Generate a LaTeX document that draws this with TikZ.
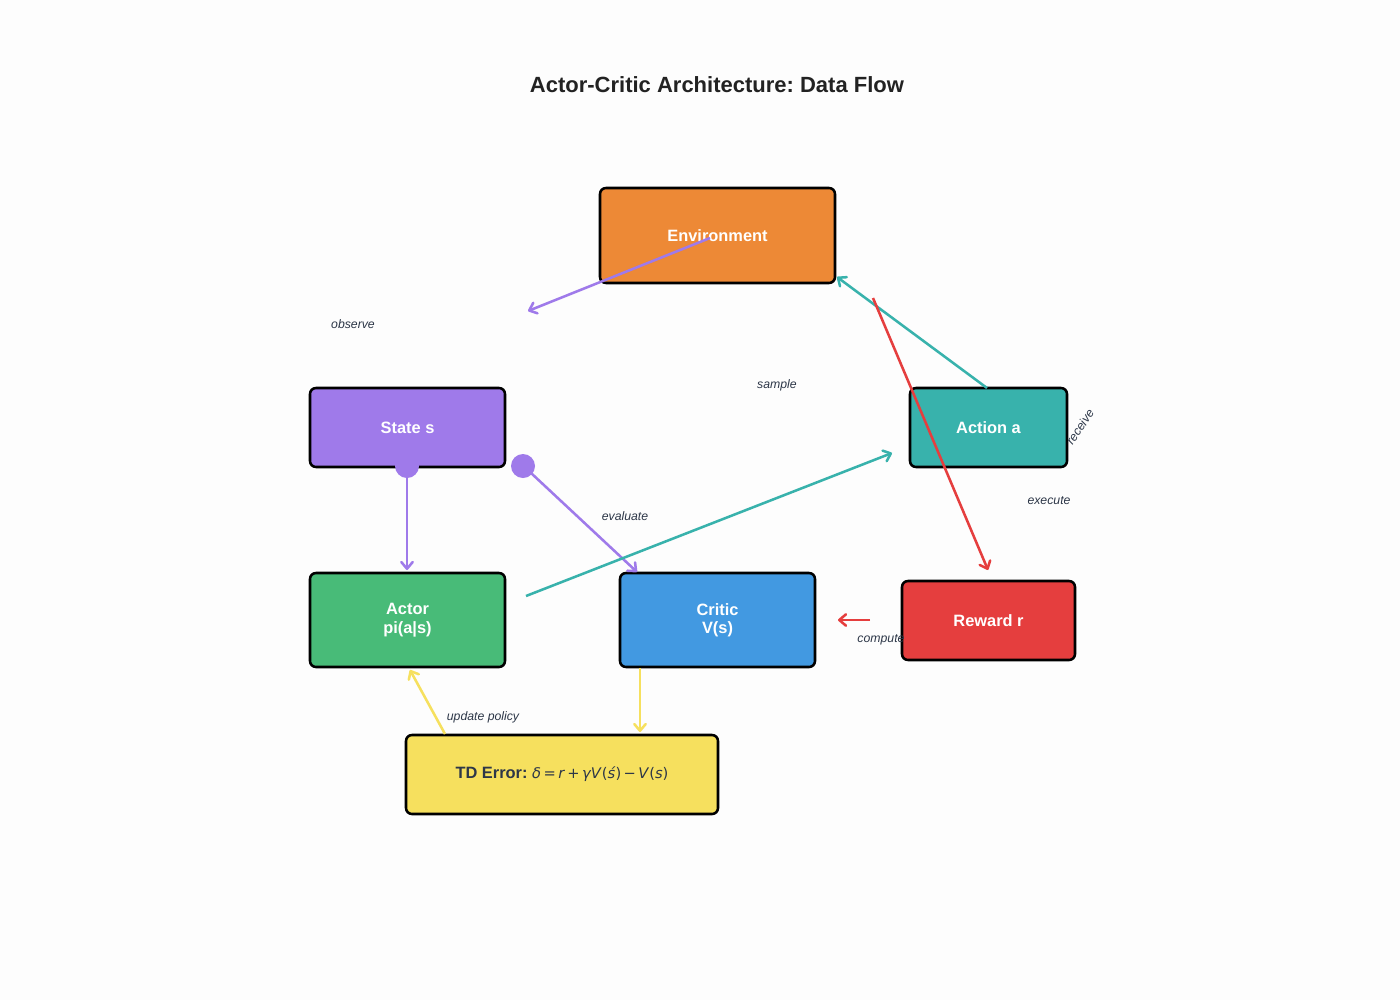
\documentclass[tikz,border=0pt]{standalone}
\usepackage{fontspec}
\setmainfont{Liberation Sans}
\newfontfamily\djv{DejaVu Sans}
\usetikzlibrary{arrows.meta}
\frenchspacing
\definecolor{bg}{HTML}{FDFDFD}
\definecolor{corange}{HTML}{ED8936}
\definecolor{cpurple}{HTML}{9F7AEA}
\definecolor{cteal}{HTML}{38B2AC}
\definecolor{cgreen}{HTML}{48BB78}
\definecolor{cblue}{HTML}{4299E1}
\definecolor{cred}{HTML}{E53E3E}
\definecolor{cyellow}{HTML}{F6E05E}
\definecolor{ctext}{HTML}{2D3748}
\definecolor{ctitle}{HTML}{222222}
\tikzset{
  box/.style={draw=black, line width=1.9pt, rounded corners=4.5pt, inner sep=0pt,
    align=center, text=white, font=\bfseries\fontsize{12.3}{13.8}\selectfont},
  flow/.style={line width=1.9pt, -{Straight Barb[length=5pt,width=8.5pt,line width=1.9pt,round]}},
  lbl/.style={text=ctext, font=\itshape\fontsize{9.2}{11}\selectfont, inner sep=0pt},
  dot/.style={circle, fill=cpurple, minimum size=18pt, inner sep=0pt}
}
\begin{document}
\begin{tikzpicture}[x=0.75pt,y=-0.75pt]
\fill[bg] (0,0) rectangle (1400,1000);
\useasboundingbox (0,0) rectangle (1400,1000);

\node[text=ctitle, font=\bfseries\fontsize{16.5}{19}\selectfont] (title) at (717,85) {Actor-Critic Architecture: Data Flow};

\node[box, fill=corange, minimum width=176.25pt, minimum height=71.25pt] (env) at (717.5,235.5) {Environment};
\node[box, fill=cpurple, minimum width=146.25pt, minimum height=59.25pt] (state) at (407.5,427.5) {State s};
\node[box, fill=cteal, minimum width=117.75pt, minimum height=59.25pt] (action) at (988.5,427.5) {Action a};
\node[box, fill=cgreen, minimum width=146.25pt, minimum height=70.5pt] (actor) at (407.5,620) {Actor\\pi(a|s)};
\node[box, fill=cblue, minimum width=146.25pt, minimum height=70.5pt] (critic) at (717.5,620) {Critic\\V(s)};
\node[box, fill=cred, minimum width=129.75pt, minimum height=59.25pt] (reward) at (988.5,620.5) {Reward r};
\node[box, fill=cyellow, text=ctext, minimum width=234pt, minimum height=59.25pt] (td) at (562,774.5)
  {\raisebox{-1.5pt}{TD Error: {\mdseries\djv\fontsize{11}{12}\selectfont\raisebox{-0.5pt}{\textit{δ}\,=\,\textit{r}\,+\,\textit{γV}(\textit{ś})\,−\,\textit{V}(\textit{s})}}}};

% purple dots
\node[dot] (dotA) at (407,466) {};
\node[dot] (dotB) at (523,466) {};

% endpoints
\coordinate (obsS) at (710,238);
\coordinate (obsE) at (528,311);
\coordinate (evS) at (531,473);
\coordinate (evE) at (637,572);
\coordinate (acS) at (407,478);
\coordinate (acE) at (407,570);
\coordinate (smS) at (526,596);
\coordinate (smE) at (892,453);
\coordinate (exS) at (987,388);
\coordinate (exE) at (837,277);
\coordinate (rcS) at (873,298);
\coordinate (rcE) at (988,570);
\coordinate (cpS) at (870,620);
\coordinate (cpE) at (838,620);
\coordinate (tdS) at (640,668);
\coordinate (tdE) at (640,732);
\coordinate (upS) at (445,734);
\coordinate (upE) at (410,670);

\draw[flow, cpurple] (obsS) -- (obsE);
\draw[flow, cpurple] (acS) -- (acE);
\draw[flow, cpurple] (evS) -- (evE);
\draw[flow, cteal] (smS) -- (smE);
\draw[flow, cteal] (exS) -- (exE);
\draw[flow, cred] (rcS) -- (rcE);
\draw[flow, cred] (cpS) -- (cpE);
\draw[flow, cyellow] (tdS) -- (tdE);
\draw[flow, cyellow] (upS) -- (upE);

% labels
\node[lbl] (lobs) at (353,324) {observe};
\node[lbl] (lsmp) at (777,385) {sample};
\node[lbl] (lev) at (625,516) {evaluate};
\node[lbl, rotate=56] (lrec) at (1080,427) {receive};
\node[lbl] (lexe) at (1049,501) {execute};
\node[lbl] (lcmp) at (881,640) {compute};
\node[lbl] (lupd) at (483,717) {update policy};
\end{tikzpicture}
\end{document}
